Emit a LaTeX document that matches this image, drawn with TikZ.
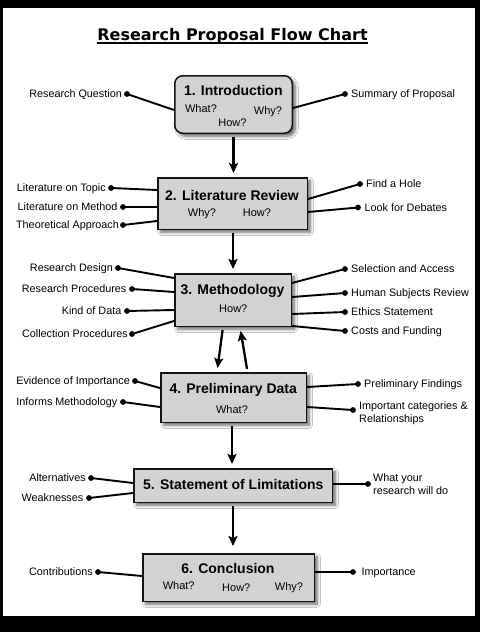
\documentclass[tikz,border=0pt]{standalone}
\usepackage{fontspec}
\setmainfont{Liberation Sans}
\newfontfamily\titlefont{DejaVu Sans}
\usetikzlibrary{arrows.meta,shadows.blur}
\definecolor{boxgray}{RGB}{210,210,210}
\definecolor{inkline}{RGB}{20,20,20}

\tikzset{
  box/.style={draw=inkline, line width=1.5pt, fill=boxgray, inner sep=0pt,
    blur shadow={shadow xshift=3pt, shadow yshift=-3pt, shadow blur radius=3pt,
      shadow blur steps=6, shadow opacity=60}},
  head/.style={font=\bfseries\fontsize{14}{16}\selectfont, inner sep=0pt,
    text height=10pt, text depth=0pt},
  ask/.style={font=\fontsize{11}{13}\selectfont, inner sep=0pt,
    text height=7.9pt, text depth=0pt},
  lbl/.style={font=\fontsize{10.8}{13}\selectfont, inner sep=0pt,
    text height=7.7pt, text depth=0pt},
  lbltwo/.style={font=\fontsize{10.8}{13}\selectfont, inner sep=0pt, align=left},
  dot/.style={circle, fill=black, inner sep=0pt, minimum size=5.8pt},
  conn/.style={line width=1.9pt, black},
  flow/.style={line width=2.3pt, black, -{Stealth[length=10pt,width=9pt,inset=2pt]},
    shorten <=3pt, shorten >=4pt},
}

\begin{document}
\begin{tikzpicture}[x=1pt, y=-1pt]
  % page frame
  \useasboundingbox (0,0) rectangle (480,632);
  \fill[black] (0,0) rectangle (480,632);
  \fill[white] (3,8) rectangle (475,616);

  % title
  \node[inner sep=0pt, anchor=base, font=\titlefont\bfseries\fontsize{16}{18}\selectfont]
    (title) at (232.5,40.7) {Research Proposal Flow Chart};
  \draw[line width=1.5pt] ([yshift=-2.3pt]title.base west) -- ([yshift=-2.3pt]title.base east);

  % main steps
  \node[box, rounded corners=8pt, minimum width=117.5pt, minimum height=57.5pt] (intro) at (233.5,104.5) {};
  \node[box, minimum width=149.5pt, minimum height=51.5pt] (lit) at (232.5,203.5) {};
  \node[box, minimum width=116.5pt, minimum height=52.5pt] (meth) at (233,300) {};
  \node[box, minimum width=145.5pt, minimum height=49.5pt] (prelim) at (233.5,397.5) {};
  \node[box, minimum width=198.5pt, minimum height=33.5pt] (limits) at (233,485.5) {};
  \node[box, minimum width=171.5pt, minimum height=47.5pt] (concl) at (228.5,577.5) {};

  % step headings and questions
  \node[head] (h1) at (233.3,90) {1. Introduction};
  \node[ask] (q1a) at (201,108.5) {What?};
  \node[ask] (q1b) at (268,110.5) {Why?};
  \node[ask] (q1c) at (232.5,122.5) {How?};

  \node[head] (h2) at (232,195.4) {2. Literature Review};
  \node[ask] (q2a) at (202,212.5) {Why?};
  \node[ask] (q2b) at (257,212.5) {How?};

  \node[head] (h3) at (232.5,289.6) {3. Methodology};
  \node[ask] (q3a) at (233.3,308.3) {How?};

  \node[head] (h4) at (233.2,388.3) {4. Preliminary Data};
  \node[ask] (q4a) at (232,410) {What?};

  \node[head] (h5) at (233.3,484) {5. Statement of Limitations};

  \node[head] (h6) at (228,568.7) {6. Conclusion};
  \node[ask] (q6a) at (178.7,585.8) {What?};
  \node[ask] (q6b) at (236.3,587.5) {How?};
  \node[ask] (q6c) at (289,586.3) {Why?};

  % flow between steps
  \draw[flow] (intro.south) -- (intro.south |- lit.north);
  \draw[flow] (lit.south -| meth.south) -- (meth.north);
  \draw[flow] ([xshift=-10pt]meth.south) -- ([xshift=-16.5pt]prelim.north);
  \draw[flow] ([xshift=14pt]prelim.north) -- ([xshift=7pt]meth.south);
  \draw[flow] (prelim.south -| 232,0) -- (limits.north -| 232,0);
  \draw[flow, shorten >=7pt] (limits.south) -- (limits.south |- concl.north);

  % 1. Introduction
  \node[dot] (d1a) at (127,94) {};
  \node[lbl, anchor=east] (t1a) at ([xshift=-5pt]d1a.center) {Research Question};
  \draw[conn] (d1a.center) -- (intro.west |- 0,110);
  \node[dot] (d1b) at (345,94) {};
  \node[lbl, anchor=west] (t1b) at ([xshift=6pt]d1b.center) {Summary of Proposal};
  \draw[conn] (intro.east |- 0,108) -- (d1b.center);

  % 2. Literature Review
  \node[dot] (d2a) at (111,188) {};
  \node[lbl, anchor=east] (t2a) at ([xshift=-5pt]d2a.center) {Literature on Topic};
  \draw[conn] (d2a.center) -- (lit.west |- 0,190);
  \node[dot] (d2b) at (123,207) {};
  \node[lbl, anchor=east] (t2b) at ([xshift=-5.5pt]d2b.center) {Literature on Method};
  \draw[conn] (d2b.center) -- (lit.west |- 0,207);
  \node[dot] (d2c) at (123,225) {};
  \node[lbl, anchor=east] (t2c) at ([xshift=-4pt]d2c.center) {Theoretical Approach};
  \draw[conn] (d2c.center) -- (lit.west |- 0,221);
  \node[dot] (d2d) at (360,184) {};
  \node[lbl, anchor=west] (t2d) at ([xshift=6pt]d2d.center) {Find a Hole};
  \draw[conn] (lit.east |- 0,199) -- (d2d.center);
  \node[dot] (d2e) at (358,207.5) {};
  \node[lbl, anchor=west] (t2e) at ([xshift=6.5pt]d2e.center) {Look for Debates};
  \draw[conn] (lit.east |- 0,212) -- (d2e.center);

  % 3. Methodology
  \node[dot] (d3a) at (118,268) {};
  \node[lbl, anchor=east] (t3a) at ([xshift=-5pt]d3a.center) {Research Design};
  \draw[conn] (d3a.center) -- (meth.west |- 0,278);
  \node[dot] (d3b) at (132,289) {};
  \node[lbl, anchor=east] (t3b) at ([xshift=-5.5pt]d3b.center) {Research Procedures};
  \draw[conn] (d3b.center) -- (meth.west |- 0,292);
  \node[dot] (d3c) at (127,311) {};
  \node[lbl, anchor=east] (t3c) at ([xshift=-5.5pt]d3c.center) {Kind of Data};
  \draw[conn] (d3c.center) -- (meth.west |- 0,310);
  \node[dot] (d3d) at (132,334) {};
  \node[lbl, anchor=east] (t3d) at ([xshift=-4pt]d3d.center) {Collection Procedures};
  \draw[conn] (d3d.center) -- (meth.west |- 0,321);
  \node[dot] (d3e) at (345,269) {};
  \node[lbl, anchor=west] (t3e) at ([xshift=6pt]d3e.center) {Selection and Access};
  \draw[conn] (meth.east |- 0,283) -- (d3e.center);
  \node[dot] (d3f) at (345,293) {};
  \node[lbl, anchor=west] (t3f) at ([xshift=6pt]d3f.center) {Human Subjects Review};
  \draw[conn] (meth.east |- 0,297) -- (d3f.center);
  \node[dot] (d3g) at (345,312) {};
  \node[lbl, anchor=west] (t3g) at ([xshift=6pt]d3g.center) {Ethics Statement};
  \draw[conn] (meth.east |- 0,314) -- (d3g.center);
  \node[dot] (d3h) at (345,331) {};
  \node[lbl, anchor=west] (t3h) at ([xshift=6pt]d3h.center) {Costs and Funding};
  \draw[conn] (meth.east |- 0,326) -- (d3h.center);

  % 4. Preliminary Data
  \node[dot] (d4a) at (135,381) {};
  \node[lbl, anchor=east] (t4a) at ([xshift=-5pt]d4a.center) {Evidence of Importance};
  \draw[conn] (d4a.center) -- (prelim.west |- 0,388);
  \node[dot] (d4b) at (123,402) {};
  \node[lbl, anchor=east] (t4b) at ([xshift=-5.5pt]d4b.center) {Informs Methodology};
  \draw[conn] (d4b.center) -- (prelim.west |- 0,407);
  \node[dot] (d4c) at (358,384) {};
  \node[lbl, anchor=west] (t4c) at ([xshift=6pt]d4c.center) {Preliminary Findings};
  \draw[conn] (prelim.east |- 0,387) -- (d4c.center);
  \node[dot] (d4d) at (353,410) {};
  \node[lbltwo, anchor=west] (t4d) at ([xshift=6pt, yshift=-3.5pt]d4d.center) {Important categories \&\\Relationships};
  \draw[conn] (prelim.east |- 0,407) -- (d4d.center);

  % 5. Statement of Limitations
  \node[dot] (d5a) at (91,478) {};
  \node[lbl, anchor=east] (t5a) at ([xshift=-5pt]d5a.center) {Alternatives};
  \draw[conn] (d5a.center) -- (limits.west |- 0,483);
  \node[dot] (d5b) at (89,498) {};
  \node[lbl, anchor=east] (t5b) at ([xshift=-5.5pt]d5b.center) {Weaknesses};
  \draw[conn] (d5b.center) -- (limits.west |- 0,493);
  \node[dot] (d5c) at (368,484) {};
  \node[lbltwo, anchor=west] (t5c) at ([xshift=5pt]d5c.center) {What your\\research will do};
  \draw[conn] (limits.east |- 0,484) -- (d5c.center);

  % 6. Conclusion
  \node[dot] (d6a) at (98,572) {};
  \node[lbl, anchor=east] (t6a) at ([xshift=-5pt]d6a.center) {Contributions};
  \draw[conn] (d6a.center) -- (concl.west |- 0,576);
  \node[dot] (d6b) at (353,572) {};
  \node[lbl, anchor=west] (t6b) at ([xshift=8.5pt]d6b.center) {Importance};
  \draw[conn] (concl.east |- 0,572) -- (d6b.center);
\end{tikzpicture}
\end{document}
